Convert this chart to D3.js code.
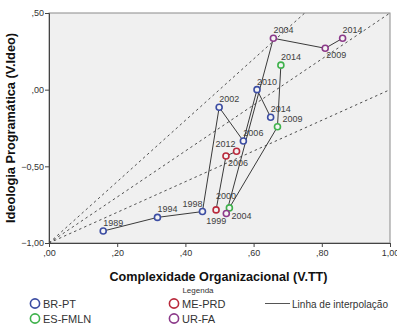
<!DOCTYPE html>
<html>
<head>
<meta charset="utf-8">
<script src="https://cdn.jsdelivr.net/npm/d3@7"></script>
<style>
  html, body { margin: 0; padding: 0; background: #fff; }
  svg { display: block; font-family: "Liberation Sans", Arial, sans-serif; }
</style>
</head>
<body>
<svg id="chart" width="397" height="325"></svg>
<script>
// Party trajectories: organizational complexity (V.TT) vs programmatic ideology (V.Ideo)
const seriesNames = ["BR-PT", "ES-FMLN", "ME-PRD", "UR-FA"];
const seriesColors = ["#3c4da3", "#3fb24c", "#b92a3c", "#8c3a8a"];

const brYears = [1989, 1994, 1998, 2002, 2006, 2010, 2014];
const brTT    = [0.159, 0.318, 0.450, 0.499, 0.570, 0.610, 0.650];
const brIdeo  = [-0.922, -0.833, -0.795, -0.115, -0.335, 0.000, -0.180];

const esYears = [2004, 2009, 2014];
const esTT    = [0.529, 0.670, 0.680];
const esIdeo  = [-0.771, -0.242, 0.160];

const meYears = [2000, 2006, 2012];
const meTT    = [0.490, 0.519, 0.550];
const meIdeo  = [-0.784, -0.433, -0.402];

const urYears = [1999, 2004, 2009, 2014];
const urTT    = [0.520, 0.658, 0.810, 0.861];
const urIdeo  = [-0.808, 0.335, 0.270, 0.335];

// Reference lines through (0, -1) with these slopes
const refSlopes = [2, 1.5, 1];

const xTicks = [0, 0.2, 0.4, 0.6, 0.8, 1.0];
const yTicks = [-1.0, -0.5, 0.0, 0.5];

// Legend entries, column by column
const legendItems = ["BR-PT", "ES-FMLN", "ME-PRD", "UR-FA"];

// Assemble series records
const series = [
  { name: seriesNames[0], color: seriesColors[0], years: brYears, xs: brTT, ys: brIdeo },
  { name: seriesNames[1], color: seriesColors[1], years: esYears, xs: esTT, ys: esIdeo },
  { name: seriesNames[2], color: seriesColors[2], years: meYears, xs: meTT, ys: meIdeo },
  { name: seriesNames[3], color: seriesColors[3], years: urYears, xs: urTT, ys: urIdeo }
].map(s => ({ ...s, pts: s.years.map((yr, i) => ({ year: yr, x: s.xs[i], y: s.ys[i] })) }));

// Year-label placement: default is above-right of the marker; crowded ones are nudged
const labelNudge = {
  "BR-PT 1998": [-20, -5],
  "ES-FMLN 2004": [2, 11],
  "ES-FMLN 2009": [5, -5],
  "ME-PRD 2000": [0, -11],
  "ME-PRD 2006": [2, 10],
  "ME-PRD 2012": [-21, -4],
  "UR-FA 1999": [-20, 10],
  "UR-FA 2009": [1, 10]
};

const svg = d3.select("#chart");
const margin = { left: 49, right: 7, top: 13, bottom: 82 };
const W = 397, H = 325;

const x = d3.scaleLinear().domain([0, 1]).range([margin.left, W - margin.right]);
const y = d3.scaleLinear().domain([-1, 0.5]).range([H - margin.bottom, margin.top]);

const fmt = v => {
  let s = d3.format(".2f")(v).replace(".", ",");
  s = s.replace(/^(-?)0,/, "$1,");
  return s;
};

// Plot background
svg.append("rect")
  .attr("x", x(0)).attr("y", y(0.5))
  .attr("width", x(1) - x(0)).attr("height", y(-1) - y(0.5))
  .attr("fill", "#f0f0f0")
  .attr("stroke", "#8a8a8a").attr("stroke-width", 1);

svg.append("clipPath").attr("id", "plotclip")
  .append("rect")
  .attr("x", x(0)).attr("y", y(0.5))
  .attr("width", x(1) - x(0)).attr("height", y(-1) - y(0.5));

// Dashed reference lines
const refG = svg.append("g").attr("clip-path", "url(#plotclip)");
refSlopes.forEach(m => {
  const xEnd = Math.min(1, 1.5 / m);
  refG.append("line")
    .attr("x1", x(0)).attr("y1", y(-1))
    .attr("x2", x(xEnd)).attr("y2", y(-1 + m * xEnd))
    .attr("stroke", "#505050").attr("stroke-width", 1)
    .attr("stroke-dasharray", "2.5,3");
});

// Axes
const xAxis = svg.append("g")
  .attr("transform", `translate(0,${y(-1)})`)
  .call(d3.axisBottom(x).tickValues(xTicks).tickFormat(fmt).tickSize(4).tickPadding(3));
const yAxis = svg.append("g")
  .attr("transform", `translate(${x(0)},0)`)
  .call(d3.axisLeft(y).tickValues(yTicks).tickFormat(fmt).tickSize(4).tickPadding(1));
[xAxis, yAxis].forEach(g => {
  g.select(".domain").attr("stroke", "#444");
  g.selectAll(".tick line").attr("stroke", "#444");
  g.selectAll(".tick text")
    .attr("fill", "#333")
    .style("font-size", "9px")
    .style("font-family", "'Liberation Sans', Arial, sans-serif");
});

// Trajectory lines and markers
const line = d3.line().x(d => x(d.x)).y(d => y(d.y));
const plotG = svg.append("g");
series.forEach(s => {
  plotG.append("path")
    .datum(s.pts)
    .attr("d", line)
    .attr("fill", "none")
    .attr("stroke", "#3a3a3a")
    .attr("stroke-width", 1);
});
series.forEach(s => {
  plotG.selectAll(null)
    .data(s.pts)
    .join("circle")
    .attr("cx", d => x(d.x)).attr("cy", d => y(d.y))
    .attr("r", 3)
    .attr("fill", "#f4f4f4")
    .attr("stroke", s.color)
    .attr("stroke-width", 1.6);
});

// Year labels
series.forEach(s => {
  plotG.selectAll(null)
    .data(s.pts)
    .join("text")
    .attr("x", d => x(d.x) + (labelNudge[`${s.name} ${d.year}`] || [0, -5])[0])
    .attr("y", d => y(d.y) + (labelNudge[`${s.name} ${d.year}`] || [0, -5])[1])
    .attr("font-size", 9)
    .attr("fill", "#404040")
    .text(d => d.year);
});

// Axis titles
svg.append("text")
  .attr("x", (x(0) + x(1)) / 2 - 1).attr("y", 281)
  .attr("text-anchor", "middle")
  .attr("font-size", 13.5).attr("font-weight", "bold").attr("fill", "#111")
  .attr("textLength", 218).attr("lengthAdjust", "spacingAndGlyphs")
  .text("Complexidade Organizacional (V.TT)");

svg.append("text")
  .attr("transform", `translate(15,${(y(-1) + y(0.5)) / 2}) rotate(-90)`)
  .attr("text-anchor", "middle")
  .attr("font-size", 13.5).attr("font-weight", "bold").attr("fill", "#111")
  .attr("textLength", 190).attr("lengthAdjust", "spacingAndGlyphs")
  .text("Ideologia Programática (V.Ideo)");

// Legend
const lg = svg.append("g");
lg.append("text")
  .attr("x", 198).attr("y", 293)
  .attr("text-anchor", "middle")
  .attr("font-size", 8).attr("fill", "#333")
  .text("Legenda");

const colX = [35, 174];
const rowY = [303.5, 318.5];
legendItems.forEach((name, i) => {
  const s = series.find(d => d.name === name);
  const cx = colX[Math.floor(i / 2)];
  const cy = rowY[i % 2];
  lg.append("circle")
    .attr("cx", cx).attr("cy", cy).attr("r", 4.6)
    .attr("fill", "#fff").attr("stroke", s.color).attr("stroke-width", 1.6);
  lg.append("text")
    .attr("x", cx + 8).attr("y", cy + 4)
    .attr("font-size", 11).attr("fill", "#333")
    .text(name);
});
lg.append("line")
  .attr("x1", 265).attr("x2", 290).attr("y1", 303.5).attr("y2", 303.5)
  .attr("stroke", "#555").attr("stroke-width", 1);
lg.append("text")
  .attr("x", 292).attr("y", 307.5)
  .attr("font-size", 11).attr("fill", "#333")
  .attr("textLength", 96).attr("lengthAdjust", "spacingAndGlyphs")
  .text("Linha de interpolação");
</script>
</body>
</html>
